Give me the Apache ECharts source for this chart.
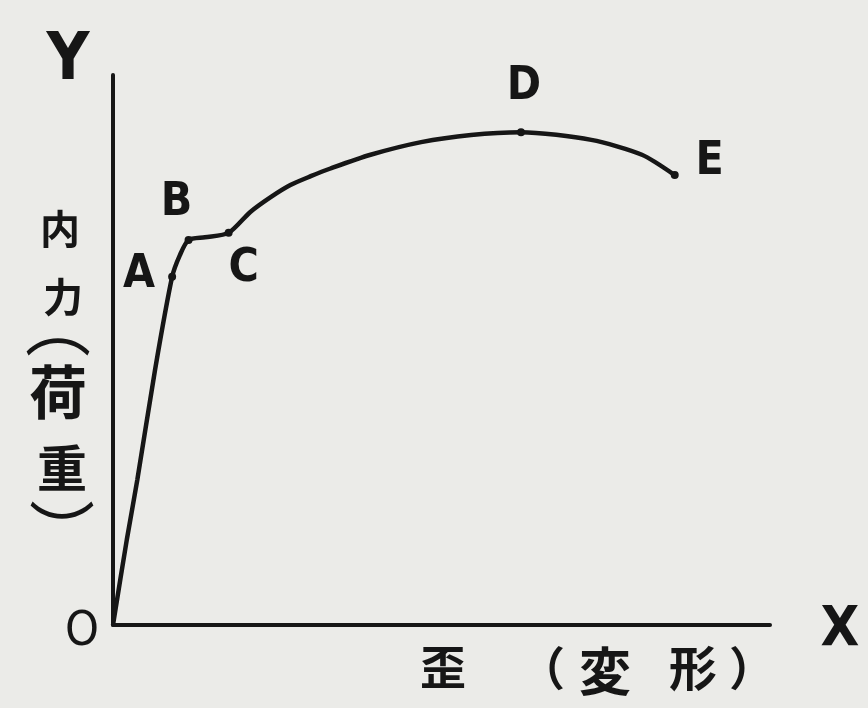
<!DOCTYPE html>
<html>
<head>
<meta charset="utf-8">
<script src="https://cdn.jsdelivr.net/npm/echarts@6/dist/echarts.min.js"></script>
<style>
  html, body { margin: 0; padding: 0; background: #ebebe8; }
  #chart { width: 868px; height: 708px; }
</style>
</head>
<body>
<div id="chart"></div>
<script>
// strain (x) and load (y) along the curve, axis units 0..100
const curveX = [0, 2.1, 3.7, 6.4, 9.0, 10.2, 11.5, 14.0, 17.6, 20.9, 24.0, 27.0, 30.1, 33.1, 39.2, 46.9, 54.5, 62.1, 72.8, 80.5, 85.5];
const curveY = [0, 15.5, 26.4, 46.4, 63.3, 67.3, 70.0, 70.5, 71.3, 75.1, 77.8, 80.0, 81.6, 83.0, 85.5, 87.8, 89.1, 89.6, 88.2, 85.5, 81.8];
// marked points A..E
const pointNames = ['A', 'B', 'C', 'D', 'E'];
const pointX = [9.0, 11.5, 17.6, 62.1, 85.5];
const pointY = [63.3, 70.0, 71.3, 89.6, 81.8];
const labelOffsets = [[-33, -2], [-12, -37], [15, 36], [3, -45], [35, -13]];

const ink = '#161616';
const latin = '"Liberation Sans Narrow", "DejaVu Sans Condensed", sans-serif';
const chart = echarts.init(document.getElementById('chart'));

// one glyph of a label, centred on (x, y)
function glyph(text, x, y, font) {
    return {
        type: 'text', x: x, y: y,
        style: { text: text, fill: ink, font: font, align: 'center', verticalAlign: 'middle' }
    };
}
function cjk(text, x, y, size, weight) {
    return glyph(text, x, y, (weight || 'bold') + ' ' + size + 'px "Noto Sans CJK JP"');
}

const option = {
    backgroundColor: '#ebebe8',
    animation: false,
    grid: { left: 113, top: 75, right: 98, bottom: 83 },
    xAxis: {
        type: 'value', min: 0, max: 100,
        axisLine: { show: true, lineStyle: { color: ink, width: 4 } },
        axisTick: { show: false }, axisLabel: { show: false }, splitLine: { show: false }
    },
    yAxis: {
        type: 'value', min: 0, max: 100,
        axisLine: { show: true, lineStyle: { color: ink, width: 4 } },
        axisTick: { show: false }, axisLabel: { show: false }, splitLine: { show: false }
    },
    series: [{
        type: 'line',
        data: curveX.map((x, i) => [x, curveY[i]]),
        smooth: 0.25,
        showSymbol: false,
        lineStyle: { color: ink, width: 4.5 }
    }, {
        type: 'scatter',
        data: pointNames.map((n, i) => ({
            name: n,
            value: [pointX[i], pointY[i]],
            label: { offset: labelOffsets[i] }
        })),
        symbolSize: 8,
        itemStyle: { color: ink, opacity: 1 },
        label: {
            show: true,
            position: 'inside',
            formatter: '{b}',
            color: ink,
            fontFamily: latin,
            fontWeight: 'bold',
            fontSize: 46
        }
    }],
    graphic: {
        elements: [
            glyph('Y', 68, 62, 'bold 66px ' + latin),
            glyph('X', 840, 630, 'bold 56px ' + latin),
            glyph('O', 82, 633, '48px ' + latin),
            // 内力（荷重） written vertically
            cjk('内', 60, 229, 40),
            cjk('力', 63, 297, 40),
            cjk('︵', 58, 325, 66, 'normal'),
            cjk('荷', 58, 392, 58),
            cjk('重', 62, 468, 50),
            cjk('︶', 62, 532, 66, 'normal'),
            // 歪（変形）
            cjk('歪', 443, 667, 46),
            cjk('（', 542, 668, 46),
            cjk('変', 605, 671, 52),
            cjk('形', 693, 668, 48),
            cjk('）', 752, 668, 46)
        ]
    }
};
chart.setOption(option);
</script>
</body>
</html>
